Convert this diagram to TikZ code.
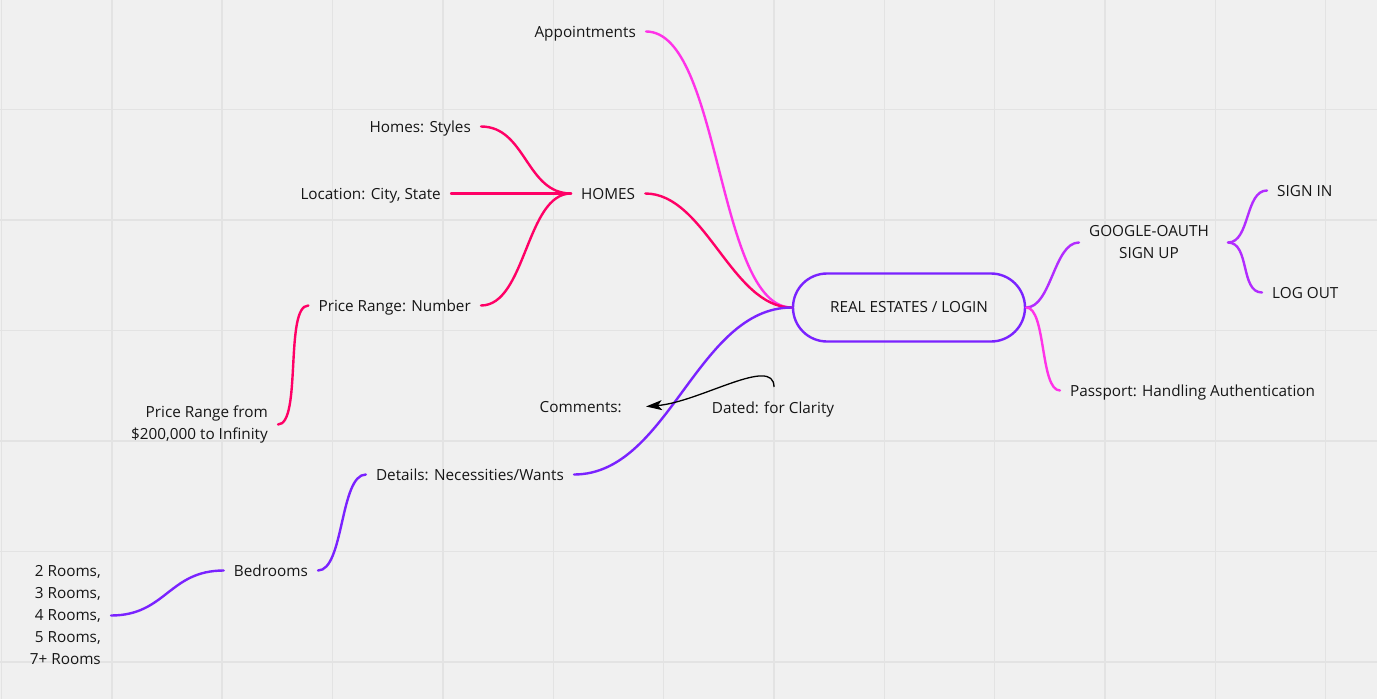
\documentclass[tikz,border=0pt]{standalone}
\usepackage{fontspec}
\setmainfont{Open Sans}
\usetikzlibrary{arrows.meta}
\definecolor{bgc}{HTML}{F0F0F0}
\definecolor{gridc}{HTML}{E3E3E3}
\definecolor{redc}{HTML}{FF0066}
\definecolor{magc}{HTML}{FF33E8}
\definecolor{purc}{HTML}{7A22FF}
\definecolor{vioc}{HTML}{B22CFF}
\definecolor{txtc}{HTML}{161616}
\tikzset{
  lbl/.style={inner xsep=10pt, inner ysep=2pt, text height=14pt, text depth=3pt,
    text=txtc, font=\fontsize{15.3}{22}\selectfont},
  mlbl/.style={inner xsep=10pt, inner ysep=2pt, text=txtc,
    font=\fontsize{15.3}{22}\selectfont},
  conn/.style={line width=2.4pt, line cap=round},
  centerbox/.style={draw=purc, line width=2.4pt, rounded corners=34pt,
    minimum width=232pt, minimum height=68pt, text=txtc,
    font=\fontsize{15.3}{22}\selectfont},
}
\begin{document}
\begin{tikzpicture}[x=1pt,y=-1pt]
\fill[bgc] (0,0) rectangle (1377,699);
\useasboundingbox (0,0) rectangle (1377,699);
\foreach \i in {0,...,12} {
  \draw[gridc, line width=1.5pt] ({1.5+110.35*\i},0) -- ({1.5+110.35*\i},699);
}
\foreach \j in {1,...,6} {
  \draw[gridc, line width=1.5pt] (0,{-0.9+110.45*\j}) -- (1377,{-0.9+110.45*\j});
}

% nodes
\node[centerbox] (center) at (909,307.5) {REAL ESTATES / LOGIN};
\node[lbl, anchor=east] (appt) at (646,31.5) {Appointments};
\node[lbl, anchor=east] (styles) at (481,126.5) {Homes: Styles};
\node[lbl, anchor=east] (loc) at (451,193.5) {Location: City, State};
\node[lbl, anchor=east] (price) at (481,305.5) {Price Range: Number};
\node[lbl, anchor=west] (homes) at (571,193.5) {HOMES};
\node[mlbl, anchor=east, align=right] (pricefrom) at (278,424.5) {Price Range from\\\$200,000 to Infinity};
\node[mlbl, align=center] (google) at (1149,242.5) {GOOGLE-OAUTH\\SIGN UP};
\node[lbl, anchor=west] (signin) at (1267,190.5) {SIGN IN};
\node[lbl, anchor=west] (logout) at (1262,292.5) {LOG OUT};
\node[lbl, anchor=west] (passport) at (1060,390.5) {Passport: Handling Authentication};
\node[lbl, anchor=east] (comments) at (632,406.5) {Comments:};
\node[lbl] (dated) at (773,407.5) {Dated: for Clarity};
\coordinate (dtail) at (774,387);
\node[lbl, anchor=east] (details) at (574,474.5) {Details: Necessities/Wants};
\node[lbl, anchor=east] (bedrooms) at (318,570.5) {Bedrooms};
\node[mlbl, anchor=east, align=right] (rooms) at (111,615.5) {2 Rooms,\\3 Rooms,\\4 Rooms,\\5 Rooms,\\7+ Rooms};

% connectors
\draw[conn, magc] (appt.east) .. controls +(75,0) and +(-75,0) .. (center.west);
\draw[conn, redc] (homes.east) .. controls +(60,0) and +(-60,0) .. (center.west);
\draw[conn, redc] (styles.east) .. controls +(45,0) and +(-45,0) .. (homes.west);
\draw[conn, redc] (loc.east) -- (homes.west);
\draw[conn, redc] (price.east) .. controls +(45,0) and +(-45,0) .. (homes.west);
\draw[conn, redc] (pricefrom.east) .. controls +(24,0) and +(-24,0) .. (price.west);
\draw[conn, purc] (details.east) .. controls +(95,0) and +(-95,0) .. (center.west);
\draw[conn, purc] (bedrooms.east) .. controls +(26,0) and +(-26,0) .. (details.west);
\draw[conn, purc] (rooms.east) .. controls +(55,0) and +(-55,0) .. (bedrooms.west);
\draw[conn, vioc] (center.east) .. controls +(25,0) and +(-25,0) .. (google.west);
\draw[conn, vioc] ([xshift=9pt]google.east) .. controls +(22,0) and +(-22,0) .. (signin.west);
\draw[conn, vioc] ([xshift=9pt]google.east) .. controls +(22,0) and +(-22,0) .. (logout.west);
\draw[conn, magc] (center.east) .. controls +(20,0) and +(-20,0) .. (passport.west);
\draw[line width=1.3pt, black, -{Stealth[length=16pt,width=10pt,inset=4pt]}]
  (dtail) .. controls (774,355) and (700,402) .. ([xshift=14pt]comments.east);
\end{tikzpicture}
\end{document}
